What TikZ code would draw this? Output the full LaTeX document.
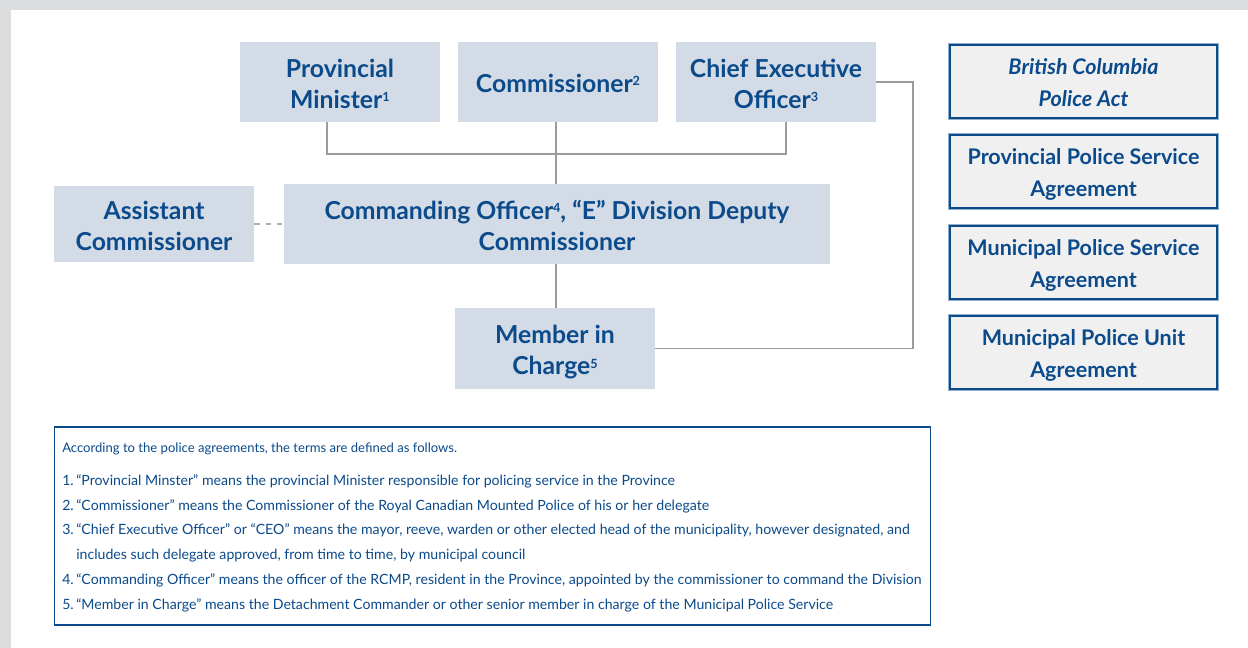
\documentclass[tikz,border=0pt]{standalone}
\usepackage{fontspec}
\setmainfont{Lato}
\usetikzlibrary{calc}
\definecolor{rcmpblue}{HTML}{0B4A8B}
\definecolor{boxfill}{HTML}{D3DCE6}
\definecolor{actfill}{HTML}{F0F0F0}
\definecolor{linkgray}{HTML}{9B9B9B}
\definecolor{pagegray}{HTML}{DCDDDF}
\newcommand\fnmark[1]{\raisebox{.28em}{\fontsize{9}{9}\selectfont#1}}
\begin{document}
\begin{tikzpicture}[x=0.025cm,y=-0.025cm,
  role/.style={fill=boxfill,text=rcmpblue,align=center,minimum width=5cm,minimum height=2cm,inner sep=0pt,text height=37.6pt,text depth=0pt,font=\fontsize{17.6}{22}\selectfont\bfseries},
  law/.style={fill=actfill,draw=rcmpblue,line width=1.4pt,preaction={draw=rcmpblue!45,line width=2.4pt},text=rcmpblue,align=center,minimum width=6.67cm,minimum height=1.82cm,inner sep=0pt,text height=35.6pt,text depth=0pt,font=\fontsize{15.3}{22.5}\selectfont\bfseries},
  link/.style={draw=linkgray,line width=1.4pt},
  note/.style={anchor=base west,inner sep=0pt,text=rcmpblue,font=\fontsize{9.3}{12}\selectfont},
  item/.style={note,font=\fontsize{10.05}{12}\selectfont}]
	\fill[pagegray](0,0)rectangle(1248,648);
	\fill[white](11,10)rectangle(1248,648);
	% people
	\node[role](pm)at(340,82){Provincial\\Minister\fnmark{1}};
	\node[role,text height=14.4pt](cm)at(558,82){Commissioner\fnmark{2}};
	\node[role](ceo)at(776,82){Chief Executive\\Officer\fnmark{3}};
	\node[role,minimum width=13.65cm](co)at(557,224){Commanding Officer\fnmark{4}, “E” Division Deputy\\Commissioner};
	\node[role,minimum height=1.9cm](ac)at(154,224){Assistant\\Commissioner};
	\node[role,minimum height=2.025cm](mic)at(555,348.5){Member in\\Charge\fnmark{5}};
	% links
	\coordinate(bus)at(556,154);
	\draw[link]($(pm.south)+(-13,0)$)|-(bus)-|($(ceo.south)+(10,0)$);
	\draw[link](bus|-cm.south)--(bus|-co.north);
	\draw[link](bus|-co.south)--(bus|-mic.north);
	\draw[link](ceo.east)--++(37,0)|-(mic.east);
	\draw[link,draw=linkgray!80,dash pattern=on 4pt off 4pt](ac.east)--(co.west);
	% acts and agreements
	\node[law,font=\fontsize{15.3}{22.5}\selectfont\bfseries\itshape](bcpa)at(1083.5,81.5){British Columbia\\Police Act};
	\node[law](ppsa)at(1083.5,171.5){Provincial Police Service\\Agreement};
	\node[law](mpsa)at(1083.5,262.5){Municipal Police Service\\Agreement};
	\node[law](mpua)at(1083.5,352.5){Municipal Police Unit\\Agreement};
	% definitions
	\node[draw=rcmpblue,line width=0.8pt,minimum width=21.9cm,minimum height=4.95cm,inner sep=0pt](defs)at(492.5,526){};
	\node[note](n0)at(62,452){According to the police agreements, the terms are defined as follows.};
	\node[item](n1)at(62,485){\makebox[0.35cm][l]{1.}“Provincial Minster” means the provincial Minister responsible for policing service in the Province};
	\node[item](n2)at(62,510){\makebox[0.35cm][l]{2.}“Commissioner” means the Commissioner of the Royal Canadian Mounted Police of his or her delegate};
	\node[item](n3)at(62,534){\makebox[0.35cm][l]{3.}“Chief Executive Officer” or “CEO” means the mayor, reeve, warden or other elected head of the municipality, however designated, and};
	\node[item](n3b)at(76,559){includes such delegate approved, from time to time, by municipal council};
	\node[item](n4)at(62,584){\makebox[0.35cm][l]{4.}“Commanding Officer” means the officer of the RCMP, resident in the Province, appointed by the commissioner to command the Division};
	\node[item](n5)at(62,609){\makebox[0.35cm][l]{5.}“Member in Charge” means the Detachment Commander or other senior member in charge of the Municipal Police Service};
\end{tikzpicture}
\end{document}
